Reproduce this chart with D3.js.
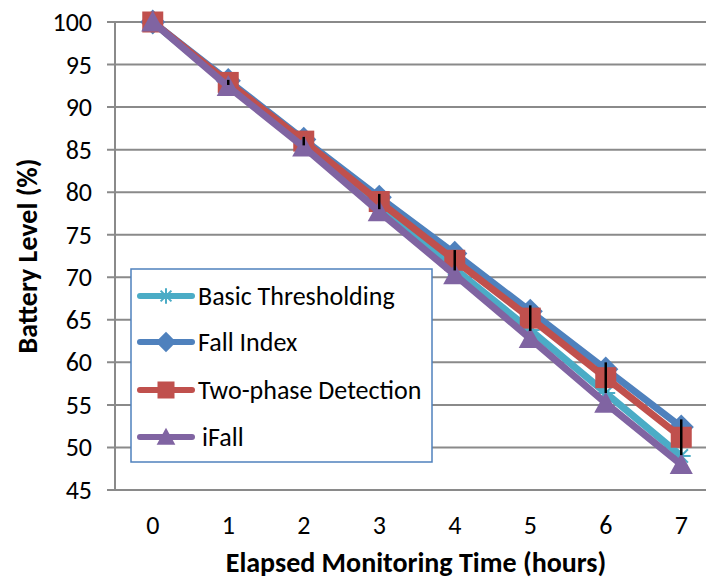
<!DOCTYPE html>
<html>
<head>
<meta charset="utf-8">
<script src="https://cdn.jsdelivr.net/npm/d3@7"></script>
<style>
  body { margin: 0; background: #fff; }
  text { font-family: Calibri, Carlito, "Open Sans", sans-serif; }
</style>
</head>
<body>
<svg width="706" height="582"></svg>
<script>
var hours = [0, 1, 2, 3, 4, 5, 6, 7];
var yTicks = [45, 50, 55, 60, 65, 70, 75, 80, 85, 90, 95, 100];

var basicThresholding = [100, 92.6, 85.6, 78.2, 71.0, 63.8, 56.4, 49.0];
var fallIndex = [100, 93.1, 86.2, 79.4, 72.8, 66.0, 59.2, 52.4];
var twoPhase = [100, 92.9, 86.0, 78.9, 72.0, 65.2, 58.2, 51.2];
var iFall = [100, 92.4, 85.3, 77.7, 70.3, 62.8, 55.2, 48.0];
var twoPhaseErr = [0, 0.3, 0.5, 0.9, 1.2, 1.5, 1.8, 2.1];

var series = [
  {name: "Basic Thresholding", values: basicThresholding, color: "#4BACC6", marker: "star"},
  {name: "Fall Index", values: fallIndex, color: "#4F81BD", marker: "diamond"},
  {name: "Two-phase Detection", values: twoPhase, color: "#C0504D", marker: "square"},
  {name: "iFall", values: iFall, color: "#8064A2", marker: "triangle"}
];

var svg = d3.select("svg"),
    plotLeft = 115, plotRight = 719, plotTop = 22, plotBottom = 490;

var x = d3.scalePoint().domain(hours).range([plotLeft, plotRight]).padding(0.5);
var y = d3.scaleLinear().domain([45, 100]).range([plotBottom, plotTop]);

// gridlines
svg.append("g")
    .selectAll("line")
    .data(yTicks)
    .enter().append("line")
    .attr("x1", plotLeft - 8).attr("x2", plotRight)
    .attr("y1", function (d) {return y(d);})
    .attr("y2", function (d) {return y(d);})
    .attr("stroke", "#8a8a8a")
    .attr("stroke-width", 2);

// y axis line
svg.append("line")
    .attr("x1", plotLeft).attr("x2", plotLeft)
    .attr("y1", plotTop).attr("y2", plotBottom)
    .attr("stroke", "#8a8a8a").attr("stroke-width", 2);

// y tick labels
svg.append("g")
    .selectAll("text")
    .data(yTicks)
    .enter().append("text")
    .attr("x", 92)
    .attr("y", function (d) {return y(d) + 9;})
    .attr("text-anchor", "end")
    .attr("font-size", 26)
    .text(function (d) {return d;});

// x tick labels
svg.append("g")
    .selectAll("text")
    .data(hours)
    .enter().append("text")
    .attr("x", function (d) {return x(d);})
    .attr("y", 534)
    .attr("text-anchor", "middle")
    .attr("font-size", 26)
    .text(function (d) {return d;});

svg.append("text")
    .attr("x", 416).attr("y", 572)
    .attr("text-anchor", "middle")
    .attr("font-size", 28).attr("font-weight", "bold")
    .text("Elapsed Monitoring Time (hours)");

svg.append("text")
    .attr("transform", "translate(37,256) rotate(-90)")
    .attr("text-anchor", "middle")
    .attr("font-size", 28).attr("font-weight", "bold")
    .text("Battery Level (%)");

function drawMarker(g, type, color, size) {
  var s = size;
  if (type === "square") {
    g.append("rect").attr("x", -s / 2).attr("y", -s / 2)
        .attr("width", s).attr("height", s).attr("fill", color);
  } else if (type === "diamond") {
    g.append("path").attr("d", "M0," + (-s * 0.6) + "L" + (s * 0.6) + ",0L0," + (s * 0.6) + "L" + (-s * 0.6) + ",0Z")
        .attr("fill", color);
  } else if (type === "triangle") {
    g.append("path").attr("d", "M0," + (-s * 0.55) + "L" + (s * 0.55) + "," + (s * 0.45) + "L" + (-s * 0.55) + "," + (s * 0.45) + "Z")
        .attr("fill", color);
  } else {
    var r = s * 0.45;
    [0, 45, 90, 135].forEach(function (a) {
      var rad = a * Math.PI / 180;
      g.append("line")
          .attr("x1", -r * Math.cos(rad)).attr("y1", -r * Math.sin(rad))
          .attr("x2", r * Math.cos(rad)).attr("y2", r * Math.sin(rad))
          .attr("stroke", color).attr("stroke-width", 2);
    });
  }
}

var line = d3.line()
    .x(function (d, i) {return x(hours[i]);})
    .y(function (d) {return y(d);});

series.forEach(function (s) {
  var g = svg.append("g");
  g.append("path")
      .attr("d", line(s.values))
      .attr("fill", "none")
      .attr("stroke", s.color)
      .attr("stroke-width", 7)
      .attr("stroke-linejoin", "round");
  s.values.forEach(function (v, i) {
    var m = g.append("g").attr("transform", "translate(" + x(hours[i]) + "," + y(v) + ")");
    drawMarker(m, s.marker, s.color, 21);
  });
});

// error bars on two-phase detection
svg.append("g")
    .selectAll("line")
    .data(twoPhaseErr)
    .enter().append("line")
    .attr("x1", function (d, i) {return x(hours[i]);})
    .attr("x2", function (d, i) {return x(hours[i]);})
    .attr("y1", function (d, i) {return y(twoPhase[i] + d);})
    .attr("y2", function (d, i) {return y(twoPhase[i] - d);})
    .attr("stroke", "#000")
    .attr("stroke-width", 2.5);

// legend
var legend = svg.append("g");
legend.append("rect")
    .attr("x", 131).attr("y", 269)
    .attr("width", 301).attr("height", 193)
    .attr("fill", "#fff")
    .attr("stroke", "#4F81BD").attr("stroke-width", 1.5);

var legendY = [296, 342, 390, 437];
series.forEach(function (s, i) {
  var gy = legendY[i];
  legend.append("line")
      .attr("x1", 140).attr("x2", 192)
      .attr("y1", gy).attr("y2", gy)
      .attr("stroke", s.color).attr("stroke-width", 6)
      .attr("stroke-linecap", "round");
  var m = legend.append("g").attr("transform", "translate(166," + gy + ")");
  drawMarker(m, s.marker, s.color, 17);
  legend.append("text")
      .attr("x", s.name === "iFall" ? 202 : 198)
      .attr("y", gy + 9)
      .attr("font-size", 26)
      .text(s.name);
});
</script>
</body>
</html>
